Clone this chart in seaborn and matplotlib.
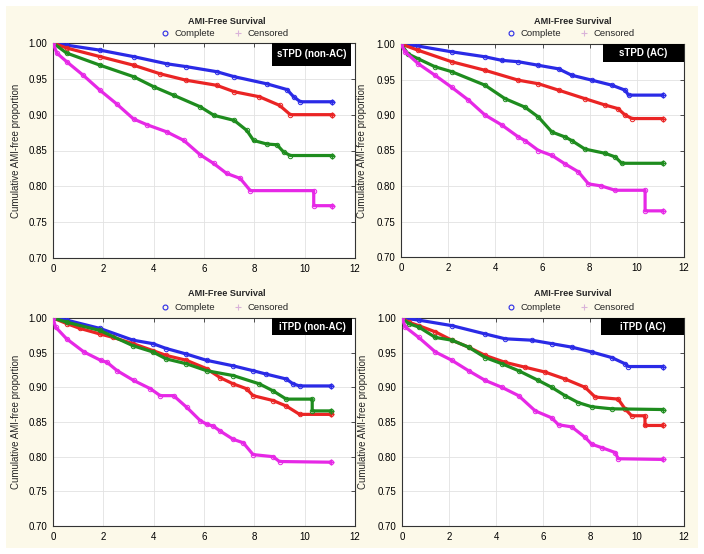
import numpy as np
import pandas as pd
import seaborn as sns
import matplotlib
matplotlib.use("Agg")
import matplotlib.pyplot as plt
from matplotlib.lines import Line2D
from matplotlib.patches import Rectangle

# ---------------- data ----------------
panel_labels = ["sTPD (non-AC)", "sTPD (AC)", "iTPD (non-AC)", "iTPD (AC)"]
group_names = ["blue", "red", "green", "magenta"]
title_text = "AMI-Free Survival"
legend_labels = ["Complete", "Censored"]
ylabel_text = "Cumulative AMI-free proportion"
x_ticks = [0, 2, 4, 6, 8, 10, 12]
y_ticks = [0.70, 0.75, 0.80, 0.85, 0.90, 0.95, 1.00]

# panel 1 : sTPD (non-AC)
p1_blue_t = [0, 0.54, 1.87, 3.2, 4.52, 5.3, 6.5, 7.2, 8.5, 9.3, 9.56, 9.83, 11.1]
p1_blue_s = [1.0, 0.997, 0.990, 0.981, 0.971, 0.967, 0.960, 0.953, 0.943, 0.935, 0.925, 0.918, 0.918]
p1_red_t = [0, 0.54, 1.87, 3.2, 4.26, 5.3, 6.5, 7.2, 8.2, 9.0, 9.43, 11.1]
p1_red_s = [1.0, 0.993, 0.981, 0.969, 0.957, 0.948, 0.941, 0.932, 0.925, 0.913, 0.900, 0.900]
p1_green_t = [0, 0.54, 1.87, 3.2, 4.0, 4.8, 5.85, 6.4, 7.2, 7.7, 7.97, 8.5, 8.9, 9.16, 9.43, 11.1]
p1_green_s = [1.0, 0.986, 0.969, 0.953, 0.939, 0.927, 0.911, 0.899, 0.892, 0.878, 0.864, 0.859, 0.858, 0.848, 0.843, 0.843]
p1_mag_t = [0, 0.15, 0.54, 1.2, 1.87, 2.53, 3.2, 3.73, 4.52, 5.2, 5.85, 6.38, 6.9, 7.44, 7.84, 10.36, 10.36, 11.1]
p1_mag_s = [1.0, 0.986, 0.974, 0.955, 0.934, 0.915, 0.894, 0.886, 0.876, 0.864, 0.844, 0.832, 0.818, 0.811, 0.794, 0.794, 0.773, 0.773]

# panel 2 : sTPD (AC)
p2_blue_t = [0, 0.74, 2.15, 3.56, 4.27, 4.98, 5.83, 6.68, 7.24, 8.1, 8.94, 9.5, 9.65, 11.1]
p2_blue_s = [1.0, 0.997, 0.989, 0.982, 0.977, 0.975, 0.970, 0.965, 0.956, 0.949, 0.942, 0.935, 0.928, 0.928]
p2_red_t = [0, 0.74, 2.15, 3.56, 4.98, 5.83, 6.68, 7.8, 8.66, 9.2, 9.5, 9.8, 11.1]
p2_red_s = [1.0, 0.991, 0.975, 0.963, 0.949, 0.944, 0.935, 0.923, 0.914, 0.909, 0.900, 0.895, 0.895]
p2_green_t = [0, 0.3, 0.74, 1.44, 2.15, 3.56, 4.41, 5.26, 5.83, 6.4, 6.96, 7.24, 7.8, 8.66, 9.08, 9.36, 11.1]
p2_green_s = [1.0, 0.986, 0.979, 0.968, 0.961, 0.942, 0.923, 0.911, 0.897, 0.876, 0.869, 0.864, 0.852, 0.846, 0.841, 0.832, 0.832]
p2_mag_t = [0, 0.17, 0.74, 1.44, 2.15, 2.86, 3.56, 4.27, 4.98, 5.26, 5.83, 6.4, 6.96, 7.52, 7.95, 8.5, 9.08, 10.35, 10.35, 11.1]
p2_mag_s = [1.0, 0.989, 0.972, 0.956, 0.939, 0.921, 0.900, 0.886, 0.869, 0.864, 0.850, 0.843, 0.831, 0.820, 0.803, 0.800, 0.794, 0.794, 0.765, 0.765]

# panel 3 : iTPD (non-AC)
p3_blue_t = [0, 0.54, 1.86, 3.18, 3.97, 4.5, 5.3, 6.1, 7.16, 7.95, 8.48, 9.27, 9.54, 9.8, 11.05]
p3_blue_s = [1.0, 0.997, 0.985, 0.968, 0.963, 0.956, 0.948, 0.939, 0.931, 0.924, 0.919, 0.912, 0.905, 0.902, 0.902]
p3_red_t = [0, 0.54, 1.07, 1.86, 2.39, 3.18, 3.97, 4.5, 5.3, 6.1, 6.64, 7.16, 7.69, 7.95, 8.74, 9.27, 9.8, 11.05]
p3_red_s = [1.0, 0.992, 0.985, 0.977, 0.972, 0.963, 0.953, 0.946, 0.939, 0.927, 0.914, 0.905, 0.898, 0.888, 0.881, 0.873, 0.861, 0.861]
p3_green_t = [0, 0.54, 1.86, 3.18, 3.97, 4.5, 5.3, 6.1, 7.16, 8.2, 8.74, 9.27, 10.3, 10.3, 11.05]
p3_green_s = [1.0, 0.994, 0.982, 0.960, 0.951, 0.941, 0.934, 0.924, 0.917, 0.905, 0.895, 0.883, 0.883, 0.866, 0.866]
p3_mag_t = [0, 0.1, 0.54, 1.23, 1.89, 2.15, 2.55, 3.2, 3.87, 4.26, 4.79, 5.32, 5.85, 6.1, 6.37, 6.64, 7.16, 7.56, 7.95, 8.74, 9.0, 11.05]
p3_mag_s = [1.0, 0.987, 0.970, 0.951, 0.939, 0.936, 0.924, 0.910, 0.898, 0.888, 0.888, 0.871, 0.852, 0.847, 0.844, 0.837, 0.825, 0.820, 0.803, 0.800, 0.793, 0.792]

# panel 4 : iTPD (AC)
p4_blue_t = [0, 0.71, 2.12, 3.54, 4.39, 5.52, 6.37, 7.22, 8.07, 8.92, 9.49, 9.63, 11.1]
p4_blue_s = [1.0, 0.997, 0.989, 0.977, 0.970, 0.968, 0.963, 0.958, 0.951, 0.943, 0.934, 0.930, 0.930]
p4_red_t = [0, 0.28, 0.71, 1.42, 2.12, 2.83, 3.54, 4.39, 5.24, 6.09, 6.94, 7.79, 8.22, 9.2, 9.49, 9.77, 10.34, 10.34, 11.1]
p4_red_s = [1.0, 0.994, 0.989, 0.980, 0.968, 0.958, 0.946, 0.936, 0.929, 0.922, 0.912, 0.900, 0.886, 0.883, 0.869, 0.859, 0.859, 0.845, 0.845]
p4_green_t = [0, 0.28, 0.71, 1.42, 2.12, 2.83, 3.54, 4.25, 4.96, 5.8, 6.37, 6.94, 7.5, 8.07, 8.92, 11.1]
p4_green_s = [1.0, 0.992, 0.987, 0.972, 0.968, 0.958, 0.943, 0.934, 0.924, 0.910, 0.900, 0.888, 0.878, 0.872, 0.869, 0.868]
p4_mag_t = [0, 0.14, 0.71, 1.42, 2.12, 2.83, 3.54, 4.25, 4.96, 5.67, 6.37, 6.66, 7.22, 7.79, 8.07, 8.5, 9.07, 9.2, 11.1]
p4_mag_s = [1.0, 0.987, 0.972, 0.951, 0.939, 0.924, 0.910, 0.900, 0.888, 0.866, 0.856, 0.846, 0.843, 0.828, 0.818, 0.813, 0.806, 0.797, 0.796]

panels = [
    [(p1_blue_t, p1_blue_s), (p1_red_t, p1_red_s), (p1_green_t, p1_green_s), (p1_mag_t, p1_mag_s)],
    [(p2_blue_t, p2_blue_s), (p2_red_t, p2_red_s), (p2_green_t, p2_green_s), (p2_mag_t, p2_mag_s)],
    [(p3_blue_t, p3_blue_s), (p3_red_t, p3_red_s), (p3_green_t, p3_green_s), (p3_mag_t, p3_mag_s)],
    [(p4_blue_t, p4_blue_s), (p4_red_t, p4_red_s), (p4_green_t, p4_green_s), (p4_mag_t, p4_mag_s)],
]

colors = {"blue": "#2a2ae6", "red": "#ea2424", "green": "#1e8c1e", "magenta": "#e628e6"}
censor_color = "#d9b3d9"
cream = "#fcf9e9"

# ---------------- figure ----------------
sns.set_style("white")
plt.rcParams["font.family"] = ["Liberation Sans", "DejaVu Sans"]

W, H = 704, 554
fig = plt.figure(figsize=(W / 100, H / 100), dpi=100)
fig.patch.set_facecolor("white")
fig.patches.append(Rectangle((6 / W, 1 - 548 / H), 692 / W, 542 / H,
                             transform=fig.transFigure, facecolor=cream,
                             edgecolor="none", zorder=-10))

def px_box(l, r, t, b):
    return [l / W, 1 - b / H, (r - l) / W, (b - t) / H]

axes_boxes = [px_box(53, 355, 43, 258), px_box(401, 684, 44, 257),
              px_box(53, 355, 318, 526), px_box(402, 684, 318, 526)]
title_pos = [(227, 21), (573, 21), (227, 293), (573, 293)]
legend_pos = [(224, 34), (570, 34), (224, 308), (570, 308)]
label_boxes = [(0.725, 0.987, 0.895), (0.714, 1.0, 0.915),
               (0.725, 0.99, 0.918), (0.705, 1.0, 0.918)]
ylabel_x = [21, 367, 21, 368]

for i, box in enumerate(axes_boxes):
    ax = fig.add_axes(box)
    ax.set_facecolor("white")
    for g, (tt, ss) in zip(group_names, panels[i]):
        df = pd.DataFrame({"time": tt, "surv": ss})
        c = colors[g]
        sns.lineplot(data=df, x="time", y="surv", ax=ax, color=c, lw=2.3,
                     estimator=None, sort=False, marker="o", markersize=3.2,
                     mfc="none", mec=c, mew=0.7, zorder=3)
        sns.scatterplot(x=[tt[-1]], y=[ss[-1]], ax=ax, color=c, marker="+",
                        s=22, linewidth=1.0, zorder=4)
    ax.set_xlim(0, 12)
    ax.set_ylim(0.70, 1.00)
    ax.set_xticks(x_ticks)
    ax.set_xticklabels([str(v) for v in x_ticks])
    ax.set_yticks(y_ticks)
    ax.set_yticklabels([f"{v:.2f}" for v in y_ticks])
    ax.grid(True, color="#e2e2e2", lw=0.6)
    ax.set_axisbelow(True)
    ax.tick_params(direction="in", length=3, width=0.6, labelsize=7,
                   top=True, right=True, colors="#333333", labelcolor="black",
                   pad=4)
    for sp in ax.spines.values():
        sp.set_color("#333333")
        sp.set_linewidth(0.8)
    ax.set_xlabel("")
    ax.set_ylabel(ylabel_text, fontsize=7)
    ax.yaxis.set_label_coords((ylabel_x[i] - box[0] * W) / (box[2] * W), 0.5)

    x0, x1, y0 = label_boxes[i]
    ax.add_patch(Rectangle((x0, y0), x1 - x0, 1.0 - y0, transform=ax.transAxes,
                           facecolor="black", edgecolor="none", zorder=6,
                           clip_on=False))
    ax.text((x0 + x1) / 2, (y0 + 1.0) / 2, panel_labels[i], transform=ax.transAxes,
            ha="center", va="center", color="white", fontsize=7,
            fontweight="bold", zorder=7)

    tx, ty = title_pos[i]
    fig.text(tx / W, 1 - ty / H, title_text, ha="center", va="center",
             fontsize=6.6, fontweight="bold")
    lx, ly = legend_pos[i]
    handles = [Line2D([], [], ls="none", marker="o", mfc="none", mec=colors["blue"],
                      markersize=3.5, mew=0.8),
               Line2D([], [], ls="none", marker="+", color=censor_color,
                      markersize=4.5, mew=0.8)]
    fig.legend(handles, legend_labels, loc="center", ncol=2, frameon=False,
               bbox_to_anchor=(lx / W, 1 - ly / H), fontsize=6.8,
               handletextpad=0.4, columnspacing=1.8, handlelength=1.2)

fig.savefig("out.png", dpi=100)
